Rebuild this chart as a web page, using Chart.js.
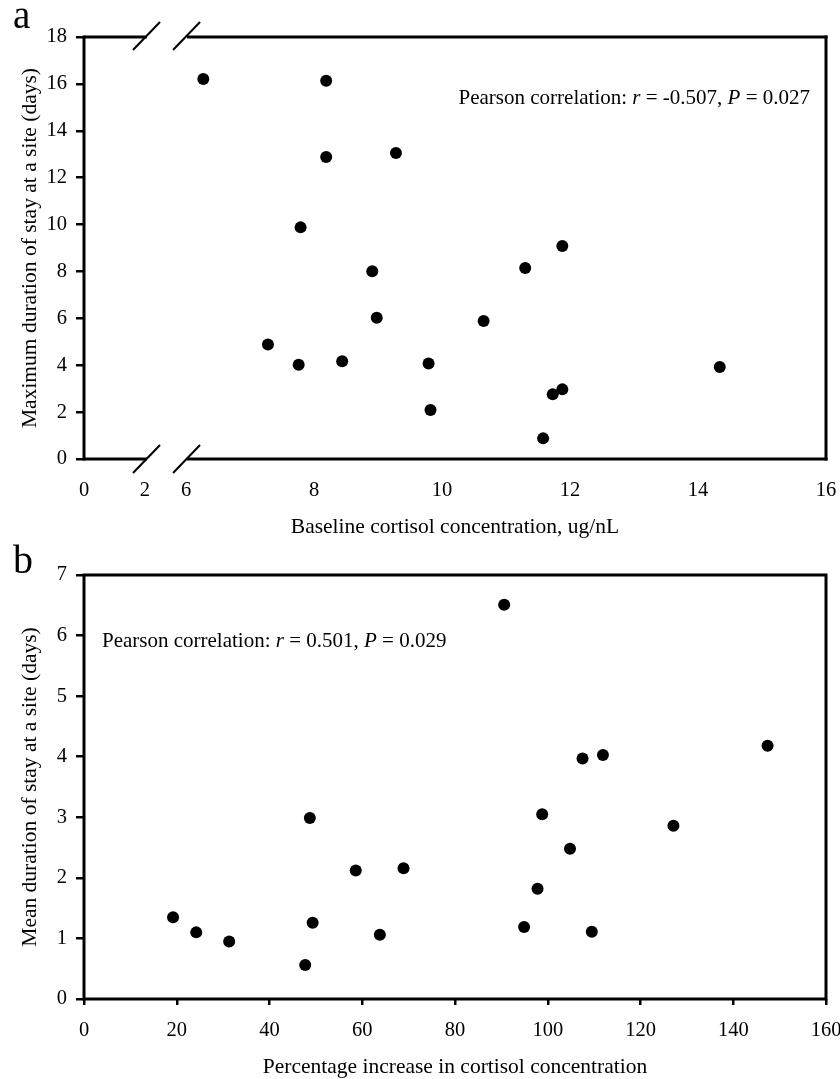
<!DOCTYPE html>
<html>
<head>
<meta charset="utf-8">
<script src="https://cdn.jsdelivr.net/npm/chart.js@4.4.0/dist/chart.umd.min.js"></script>
<style>
html, body { margin: 0; padding: 0; background: #fff; overflow: hidden; }
.panel { position: absolute; left: 0; width: 840px; height: 540px; }
</style>
</head>
<body>
<div class="panel" style="top:0"><canvas id="chartA"></canvas></div>
<div class="panel" style="top:540px"><canvas id="chartB"></canvas></div>
<script>
// panel a: baseline cortisol vs maximum duration of stay
const baselineCortisol = [6.27, 8.19, 8.19, 9.28, 7.79, 8.91, 8.98, 7.28, 7.76, 8.44, 11.88, 11.30, 10.65, 9.79, 14.34, 11.88, 11.73, 9.82, 11.58];
const maxStay = [16.21, 16.13, 12.88, 13.05, 9.88, 8.01, 6.02, 4.88, 4.02, 4.17, 9.09, 8.15, 5.89, 4.07, 3.92, 2.97, 2.76, 2.09, 0.88];
const xTicksA = [0, 2, 6, 8, 10, 12, 14, 16];
const xBreakA = [2, 6];

// panel b: percentage increase vs mean duration of stay
const pctIncrease = [48.7, 58.6, 68.9, 19.2, 24.2, 31.3, 49.3, 63.8, 47.7, 90.6, 107.5, 111.9, 147.4, 98.8, 127.1, 104.8, 97.8, 94.9, 109.5];
const meanStay = [2.99, 2.12, 2.16, 1.35, 1.10, 0.95, 1.26, 1.06, 0.56, 6.51, 3.97, 4.03, 4.18, 3.05, 2.86, 2.48, 1.82, 1.19, 1.11];

const statsA = [['Pearson correlation: ', false], ['r', true], [' = -0.507, ', false], ['P', true], [' = 0.027', false]];
const statsB = [['Pearson correlation: ', false], ['r', true], [' = 0.501, ', false], ['P', true], [' = 0.029', false]];

const SERIF = "'Liberation Serif', 'Times New Roman', serif";
Chart.defaults.color = '#000';
Chart.defaults.font.family = SERIF;

// share of the axis length used by the part below the break and by the break itself
const SEG_LOW = 0.0822, SEG_GAP = 0.0553;

class BrokenLinearScale extends Chart.LinearScale {
    _decimal(v) {
        const [lo, hi] = xBreakA;
        if (v <= lo) return (v - this.min) / (lo - this.min) * SEG_LOW;
        if (v >= hi) return SEG_LOW + SEG_GAP + (v - hi) / (this.max - hi) * (1 - SEG_LOW - SEG_GAP);
        return SEG_LOW + (v - lo) / (hi - lo) * SEG_GAP;
    }
    getPixelForValue(value) {
        if (value === null || value === undefined || isNaN(value)) return NaN;
        return this.getPixelForDecimal(this._decimal(value));
    }
    getValueForPixel(pixel) {
        const d = this.getDecimalForPixel(pixel);
        const [lo, hi] = xBreakA;
        if (d <= SEG_LOW) return this.min + d / SEG_LOW * (lo - this.min);
        if (d >= SEG_LOW + SEG_GAP) return hi + (d - SEG_LOW - SEG_GAP) / (1 - SEG_LOW - SEG_GAP) * (this.max - hi);
        return lo + (d - SEG_LOW) / SEG_GAP * (hi - lo);
    }
}
BrokenLinearScale.id = 'brokenLinear';
BrokenLinearScale.defaults = Chart.LinearScale.defaults;
Chart.register(BrokenLinearScale);

function toPoints(xs, ys) {
    return xs.map((x, i) => ({ x: x, y: ys[i] }));
}

function line(ctx, x1, y1, x2, y2) {
    ctx.beginPath();
    ctx.moveTo(x1, y1);
    ctx.lineTo(x2, y2);
    ctx.stroke();
}

function drawStats(ctx, parts, x, y, alignRight) {
    ctx.save();
    ctx.textBaseline = 'middle';
    ctx.fillStyle = '#000';
    const fonts = parts.map(p => (p[1] ? 'italic ' : '') + '21px ' + SERIF);
    let total = 0;
    parts.forEach((p, i) => { ctx.font = fonts[i]; total += ctx.measureText(p[0]).width; });
    let cx = alignRight ? x - total : x;
    parts.forEach((p, i) => {
        ctx.font = fonts[i];
        ctx.fillText(p[0], cx, y);
        cx += ctx.measureText(p[0]).width;
    });
    ctx.restore();
}

const yFit = (scale) => { scale.width = 84; };
const xFit = (scale) => { scale.height = 81; scale.paddingLeft = 0; scale.paddingRight = 0; };

const frameA = {
    id: 'frameA',
    afterDraw(chart) {
        const { ctx, chartArea: { left, right, top, bottom } } = chart;
        const x = chart.scales.x;
        const g0 = x.getPixelForValue(xBreakA[0]);
        const g1 = x.getPixelForValue(xBreakA[1]);
        ctx.save();
        ctx.strokeStyle = '#000';
        ctx.lineWidth = 3;
        line(ctx, left, top - 1.5, left, bottom + 1.5);
        line(ctx, right, top - 1.5, right, bottom + 1.5);
        [top, bottom].forEach(y => {
            line(ctx, left, y, g0 + 2, y);
            line(ctx, g1 + 1, y, right + 1.5, y);
        });
        ctx.lineWidth = 2;
        [g0 + 1.5, g1 + 0.5].forEach(gx => {
            [top - 1, bottom].forEach(y => line(ctx, gx - 13.5, y + 14, gx + 13.5, y - 14));
        });
        ctx.font = '39px ' + SERIF;
        ctx.fillStyle = '#000';
        ctx.textBaseline = 'alphabetic';
        ctx.fillText('a', 13, 28);
        drawStats(ctx, statsA, right - 16, top + 61, true);
        ctx.restore();
    }
};

const frameB = {
    id: 'frameB',
    afterDraw(chart) {
        const { ctx, chartArea: { left, right, top, bottom } } = chart;
        ctx.save();
        ctx.strokeStyle = '#000';
        ctx.lineWidth = 3;
        ctx.strokeRect(left, top, right - left, bottom - top);
        ctx.font = '40px ' + SERIF;
        ctx.fillStyle = '#000';
        ctx.textBaseline = 'alphabetic';
        ctx.fillText('b', 13, 33);
        drawStats(ctx, statsB, left + 18, top + 66, false);
        ctx.restore();
    }
};

const tickFont = { family: SERIF, size: 20.5 };
const titleFont = { family: SERIF, size: 21.5 };
const tickGrid = { display: true, drawOnChartArea: false, drawTicks: true, tickLength: 8, color: '#000', lineWidth: 2.5 };

const pointStyle = {
    backgroundColor: '#000',
    borderColor: '#000',
    pointRadius: 6,
    pointHoverRadius: 6,
    borderWidth: 0
};

new Chart(document.getElementById('chartA'), {
    type: 'scatter',
    data: {
        datasets: [Object.assign({ data: toPoints(baselineCortisol, maxStay) }, pointStyle)]
    },
    options: {
        responsive: true,
        maintainAspectRatio: false,
        animation: false,
        layout: { padding: { top: 37, right: 14, bottom: 0, left: 0 } },
        plugins: { legend: { display: false }, tooltip: { enabled: false } },
        scales: {
            x: {
                type: 'brokenLinear',
                min: 0,
                max: 16,
                afterBuildTicks: (scale) => { scale.ticks = xTicksA.map(v => ({ value: v })); },
                afterFit: xFit,
                grid: { display: false },
                border: { display: false },
                ticks: { font: tickFont, padding: 11, autoSkip: false, maxRotation: 0 },
                title: { display: true, text: 'Baseline cortisol concentration, ug/nL', font: titleFont, padding: { top: 0, bottom: 0 } }
            },
            y: {
                min: 0,
                max: 18,
                afterFit: yFit,
                grid: tickGrid,
                border: { display: false },
                ticks: { font: tickFont, stepSize: 2, padding: 9 },
                title: { display: true, text: 'Maximum duration of stay at a site (days)', font: titleFont, padding: { top: 17, bottom: 0 } }
            }
        }
    },
    plugins: [frameA]
});

new Chart(document.getElementById('chartB'), {
    type: 'scatter',
    data: {
        datasets: [Object.assign({ data: toPoints(pctIncrease, meanStay) }, pointStyle)]
    },
    options: {
        responsive: true,
        maintainAspectRatio: false,
        animation: false,
        layout: { padding: { top: 35, right: 14, bottom: 0, left: 0 } },
        plugins: { legend: { display: false }, tooltip: { enabled: false } },
        scales: {
            x: {
                min: 0,
                max: 160,
                afterFit: xFit,
                grid: Object.assign({}, tickGrid, { tickLength: 6 }),
                border: { display: false },
                ticks: { font: tickFont, stepSize: 20, padding: 13, autoSkip: false, maxRotation: 0 },
                title: { display: true, text: 'Percentage increase in cortisol concentration', font: titleFont, padding: { top: 0, bottom: 0 } }
            },
            y: {
                min: 0,
                max: 7,
                afterFit: yFit,
                grid: tickGrid,
                border: { display: false },
                ticks: { font: tickFont, stepSize: 1, padding: 9 },
                title: { display: true, text: 'Mean duration of stay at a site (days)', font: titleFont, padding: { top: 17, bottom: 0 } }
            }
        }
    },
    plugins: [frameB]
});
</script>
</body>
</html>
